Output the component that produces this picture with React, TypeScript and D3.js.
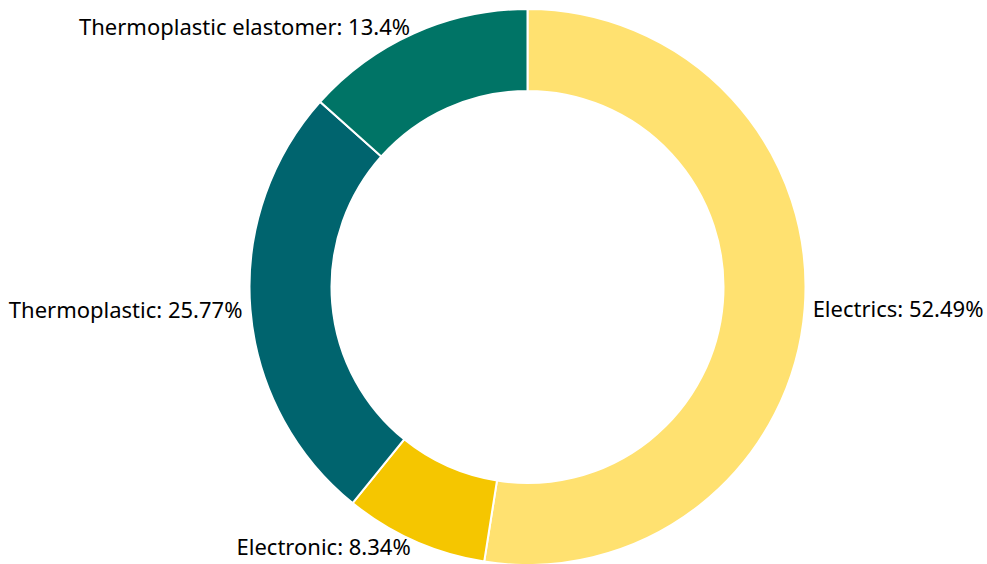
import React from "react";
import * as d3 from "d3";

const categories = ["Electrics", "Electronic", "Thermoplastic", "Thermoplastic elastomer"];
const values = [52.49, 8.34, 25.77, 13.4];
const labels = ["52.49%", "8.34%", "25.77%", "13.4%"];
const colors = ["#FFE170", "#F5C600", "#00646E", "#007466"];

const W = 987;
const H = 564;
const cx = 527.5;
const cy = 287;
const outerR = 278;
const innerR = 196;
const labelR = 285;

export default function App() {
  const data = categories.map((c, i) => ({ c, v: values[i], l: labels[i], col: colors[i] }));
  const pie = d3.pie<any>().sort(null).value((d: any) => d.v);
  const arcs = pie(data);
  const arcGen = d3.arc<any>().innerRadius(innerR).outerRadius(outerR);
  return (
    <svg width={W} height={H} style={{ position: "absolute", left: 0, top: 0 }}>
      <g transform={`translate(${cx},${cy})`}>
        {arcs.map((a, i) => (
          <path key={i} d={arcGen(a) as string} fill={a.data.col} stroke="#fff" strokeWidth={2} />
        ))}
        {arcs.map((a, i) => {
          const mid = (a.startAngle + a.endAngle) / 2;
          const x = labelR * Math.sin(mid);
          const y = -labelR * Math.cos(mid);
          const right = x > 0;
          return (
            <text
              key={"t" + i}
              x={right ? x + 1 : x - 1}
              y={y}
              dy="0.35em"
              textAnchor={right ? "start" : "end"}
              fontFamily="'Noto Sans', sans-serif"
              fontSize={22}
              fill="#000"
            >
              {`${a.data.c}: ${a.data.l}`}
            </text>
          );
        })}
      </g>
    </svg>
  );
}
